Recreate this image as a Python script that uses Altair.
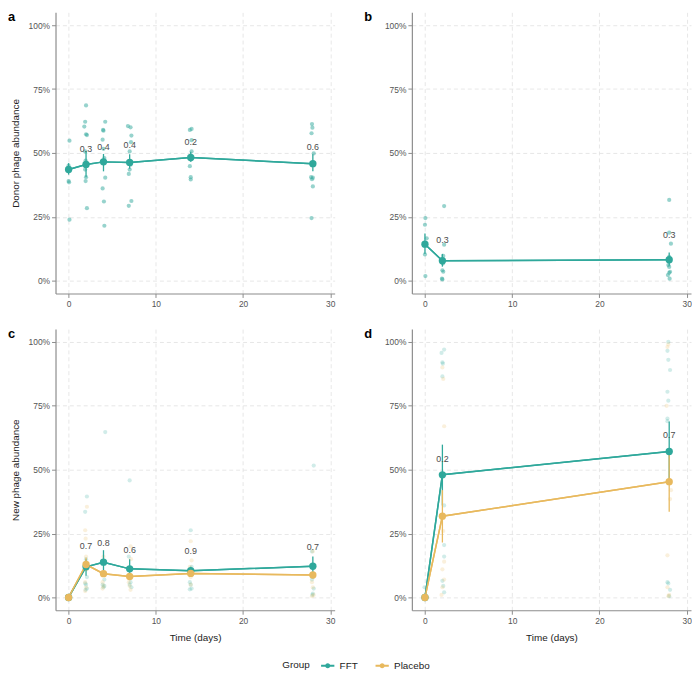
import altair as alt
import pandas as pd

FFT_COLOR = "#2FA89B"
PLA_COLOR = "#E8B95E"
groups = ["FFT", "Placebo"]

# ---------------- Panel a (Donor phage, FFT only) ----------------
a_pts_day = [0.1, 0.0, -0.05, 0.0, 0.05, 0.1,
             2.0, 1.9, 1.8, 2.0, 2.1, 1.9, 1.95, 1.9, 2.0, 1.95, 2.1,
             4.2, 3.95, 4.0, 3.9, 4.0, 4.1, 4.2, 3.9, 4.05, 4.1,
             6.8, 7.1, 7.2, 7.15, 7.0, 7.1, 7.0, 6.9, 7.2, 6.9,
             13.9, 14.1, 14.1, 14.1, 14.0, 13.9, 14.0, 14.0,
             27.9, 27.95, 27.85, 28.1, 28.0, 27.8, 28.0, 27.9, 28.0, 27.85]
a_pts_val = [54.8, 45, 44, 39, 38.5, 23.9,
             68.6, 62.2, 60.3, 57.3, 57, 50.6, 47, 43.5, 40.5, 39, 28.4,
             62.2, 59, 58.7, 55.2, 51.6, 48, 40.3, 36.1, 31, 21.5,
             60.5, 60, 56.8, 54.2, 50.6, 45.4, 43.5, 41.8, 31.2, 29.3,
             59, 59.4, 55, 50.6, 47.4, 44.8, 40.5, 39.6,
             61.3, 59.9, 57.7, 49.8, 45.7, 40.5, 40.3, 39.7, 36.9, 24.5]
a_days = [0, 2, 4, 7, 14, 28]
a_mean = [43.5, 45.5, 46.5, 46.3, 48.2, 45.8]
a_lo = [41.5, 40.5, 42.8, 43.8, 46.5, 42.8]
a_hi = [46.0, 50.8, 49.6, 49.5, 50.5, 49.5]
a_lab_day = [2, 4, 7, 14, 28]
a_lab_txt = ["0.3", "0.4", "0.4", "0.2", "0.6"]
a_lab_y = [51.6, 52.3, 53.2, 54.1, 52.3]

# ---------------- Panel b (Donor phage, FFT only) ----------------
b_pts_day = [0.05, 0.0, 0.2, 0.1, 0.0, 0.05,
             2.2, 2.2, 2.1, 1.9, 2.05, 2.0, 2.1, 1.95, 2.0,
             28.0, 28.0, 28.2, 28.0, 27.9, 28.0, 28.1, 28.0, 27.85, 28.05]
b_pts_val = [24.5, 21.9, 16.6, 14.5, 10.3, 1.8,
             29.2, 14.1, 9.7, 8.0, 6.7, 4.1, 3.5, 0.8, 0.5,
             31.6, 18.8, 14.5, 9.3, 6.1, 5.4, 3.5, 3.1, 2.2, 0.8]
b_days = [0, 2, 28]
b_mean = [14.3, 7.8, 8.2]
b_lo = [10.5, 5.5, 6.0]
b_hi = [18.5, 10.5, 11.0]
b_lab_day = [2, 28]
b_lab_txt = ["0.3", "0.3"]
b_lab_y = [16.0, 17.7]

# ---------------- Panel c (New phage) ----------------
c_fft_day = [0.0, 0.05, -0.05,
             2.1, 1.9, 2.0, 2.1, 1.9, 2.0, 2.1, 1.95,
             4.2, 4.1, 3.9, 4.1, 4.0,
             7.0, 6.9, 7.1, 7.0, 7.2,
             14.0, 14.1, 13.9, 14.0, 14.1, 13.9,
             28.1, 27.9, 28.0, 27.9, 28.1, 28.0, 27.95]
c_fft_val = [0, 0, 0,
             39.5, 33.5, 15, 8, 5.5, 5, 3.5, 3,
             64.7, 7, 5, 4.5, 4,
             45.8, 16, 6, 5, 4,
             26.3, 12, 6, 5, 3.5, 3.2,
             51.6, 18, 8, 7, 3.5, 1.5, 1]
c_pla_day = [0.0, 0.05, -0.05,
             2.1, 1.9, 1.95, 2.0, 2.1, 1.9, 2.0, 1.9,
             4.0, 4.1, 3.9, 4.0, 3.9,
             7.1, 7.15, 6.9, 7.0, 7.1,
             14.0, 14.1, 13.9, 14.0, 14.0,
             28.0, 28.0, 27.9, 28.0, 28.1, 27.9]
c_pla_val = [0, 0, 0,
             35.5, 26.3, 23, 16, 11, 6, 4, 2.5,
             16, 9, 6, 4.5, 3.5,
             20, 15, 6, 4.5, 3,
             22, 14.5, 12, 8, 5,
             18, 12, 6, 4, 1, 0.5]
c_days = [0, 2, 4, 7, 14, 28]
c_fft_mean = [0, 12.0, 13.8, 11.2, 10.5, 12.2]
c_fft_lo = [0, 8.5, 10.5, 8.5, 9.0, 9.0]
c_fft_hi = [0, 15.0, 18.5, 15.0, 12.0, 16.0]
c_pla_mean = [0, 12.9, 9.3, 8.2, 9.4, 8.8]
c_pla_lo = [0, 10.5, 8.0, 7.0, 8.0, 7.5]
c_pla_hi = [0, 15.5, 10.5, 9.5, 11.0, 10.0]
c_lab_day = [2, 4, 7, 14, 28]
c_lab_txt = ["0.7", "0.8", "0.6", "0.9", "0.7"]
c_lab_y = [20.2, 21.2, 18.6, 18.1, 19.6]

# ---------------- Panel d (New phage) ----------------
d_fft_day = [0.0, 0.05, -0.05,
             2.2, 1.9, 2.0, 2.05, 2.0, 2.2, 2.2, 2.2, 2.0, 2.1, 2.2,
             27.9, 27.8, 27.9, 28.1, 27.8, 27.9, 27.8, 27.8, 27.8, 27.9, 28.1, 28.0]
d_fft_val = [0, 0, 4,
             97, 95.7, 92, 91.5, 86.5, 36, 20.5, 16, 6.5, 4.5, 2,
             100, 96.5, 93, 89, 80.5, 77, 70, 69, 6, 5.5, 3, 0.5]
d_pla_day = [0.0, 0.05, -0.05,
             2.0, 2.1, 2.2, 2.1, 2.2, 2.0, 2.2, 2.0, 1.9,
             27.9, 27.8, 27.7, 28.2, 28.1, 27.8, 27.8, 28.0, 27.9]
d_pla_val = [0, 0, 0,
             90, 85.5, 67, 26, 14, 11, 7, 4, 1,
             99, 98, 75, 42, 38.5, 16.5, 4, 1, 0.5]
d_days = [0, 2, 28]
d_fft_mean = [0, 48.0, 57.1]
d_fft_lo = [0, 36.0, 45.5]
d_fft_hi = [0, 59.8, 68.9]
d_pla_mean = [0, 31.8, 45.3]
d_pla_lo = [0, 21.5, 33.5]
d_pla_hi = [0, 42.0, 56.0]
d_lab_day = [2, 28]
d_lab_txt = ["0.2", "0.7"]
d_lab_y = [54.3, 63.6]

x_ticks = [0, 10, 20, 30]
y_ticks = [0, 25, 50, 75, 100]


def pts_df(pairs):
    rows = []
    for grp, days, vals in pairs:
        for d, v in zip(days, vals):
            rows.append({"day": d, "value": v, "Group": grp})
    return pd.DataFrame(rows)


def sum_df(items):
    rows = []
    for grp, days, mean, lo, hi in items:
        for d, m, l, h in zip(days, mean, lo, hi):
            rows.append({"day": d, "mean": m, "lo": l, "hi": h, "Group": grp})
    return pd.DataFrame(rows)


W, H = 282, 284
color_scale = alt.Scale(domain=groups, range=[FFT_COLOR, PLA_COLOR])
legend = alt.Legend(
    title="Group", orient="none", direction="horizontal", titleOrient="left",
    legendX=229, legendY=652,
    symbolType="M-1,0L1,0M0.22,0A0.22,0.22,0,1,1,-0.22,0A0.22,0.22,0,1,1,0.22,0",
    symbolSize=180, symbolStrokeWidth=2.2, symbolOpacity=1,
    labelFontSize=10, titleFontSize=10, titleFontWeight="normal",
    labelColor="#222222", titleColor="#222222", columnPadding=12, titlePadding=10,
)


def panel(letter, pts, summ, lab_day, lab_txt, lab_y, ytitle, xtitle, opacity):
    xs = alt.Scale(domain=[-1.5, 30.5], nice=False, zero=False)
    ys = alt.Scale(domain=[-5, 105], nice=False, zero=False)
    xax = alt.Axis(values=x_ticks, title=xtitle)
    yax = alt.Axis(values=y_ticks, title=ytitle, labelExpr="datum.value + '%'")
    col = alt.Color("Group:N", scale=color_scale, legend=legend)
    line = alt.Chart(summ).mark_line(strokeWidth=1.5).encode(
        x=alt.X("day:Q", scale=xs, axis=xax),
        y=alt.Y("mean:Q", scale=ys, axis=yax),
        color=col,
    )
    base_pts = alt.Chart(pts).mark_circle(size=18, opacity=opacity).encode(
        x="day:Q", y="value:Q", color=col,
    )
    err = alt.Chart(summ).mark_rule(strokeWidth=1.3).encode(
        x="day:Q", y="lo:Q", y2="hi:Q", color=col,
    )
    line2 = alt.Chart(summ).mark_line(strokeWidth=1.5).encode(
        x="day:Q", y="mean:Q", color=col,
    )
    mpts = alt.Chart(summ).mark_circle(size=55, opacity=1).encode(
        x="day:Q", y="mean:Q", color=col,
    )
    labs = alt.Chart(pd.DataFrame({"day": lab_day, "y": lab_y, "t": lab_txt})).mark_text(
        fontSize=9, color="#4D4D4D"
    ).encode(x="day:Q", y="y:Q", text="t:N")
    tag = alt.Chart(pd.DataFrame({"t": [letter]})).mark_text(
        fontSize=13, fontWeight="bold", color="black", align="left", baseline="top"
    ).encode(x=alt.value(-48), y=alt.value(-1), text="t:N")
    return alt.layer(line, base_pts, err, line2, mpts, labs, tag).properties(width=W, height=H)


pa = panel("a", pts_df([("FFT", a_pts_day, a_pts_val)]),
           sum_df([("FFT", a_days, a_mean, a_lo, a_hi)]),
           a_lab_day, a_lab_txt, a_lab_y, "Donor phage abundance", None, 0.5)
pb = panel("b", pts_df([("FFT", b_pts_day, b_pts_val)]),
           sum_df([("FFT", b_days, b_mean, b_lo, b_hi)]),
           b_lab_day, b_lab_txt, b_lab_y, None, None, 0.5)
pc = panel("c", pts_df([("FFT", c_fft_day, c_fft_val), ("Placebo", c_pla_day, c_pla_val)]),
           sum_df([("FFT", c_days, c_fft_mean, c_fft_lo, c_fft_hi),
                   ("Placebo", c_days, c_pla_mean, c_pla_lo, c_pla_hi)]),
           c_lab_day, c_lab_txt, c_lab_y, "New phage abundance", "Time (days)", 0.22)
pd_ = panel("d", pts_df([("FFT", d_fft_day, d_fft_val), ("Placebo", d_pla_day, d_pla_val)]),
            sum_df([("FFT", d_days, d_fft_mean, d_fft_lo, d_fft_hi),
                    ("Placebo", d_days, d_pla_mean, d_pla_lo, d_pla_hi)]),
            d_lab_day, d_lab_txt, d_lab_y, None, "Time (days)", 0.22)

top = alt.hconcat(pa, pb, spacing=29)
bottom = alt.hconcat(pc, pd_, spacing=29)
chart = (
    alt.vconcat(top, bottom, spacing=20)
    .configure(padding=0)
    .configure_view(stroke=None)
    .configure_axis(
        gridDash=[4, 3], gridColor="#E0E0E0", gridWidth=0.8,
        domainColor="#8C8C8C", domainWidth=1.2, tickColor="#8C8C8C", tickSize=4,
        labelColor="#555555", labelFontSize=8.5, labelFont="Liberation Sans",
        titleFont="Liberation Sans", titleFontSize=10, titleFontWeight="normal",
        titleColor="#222222", titlePadding=8,
    )
    .configure_text(font="Liberation Sans")
    .configure_legend(labelFont="Liberation Sans", titleFont="Liberation Sans")
)

chart.save("out.html", embed_options={"renderer": "svg", "actions": False})
